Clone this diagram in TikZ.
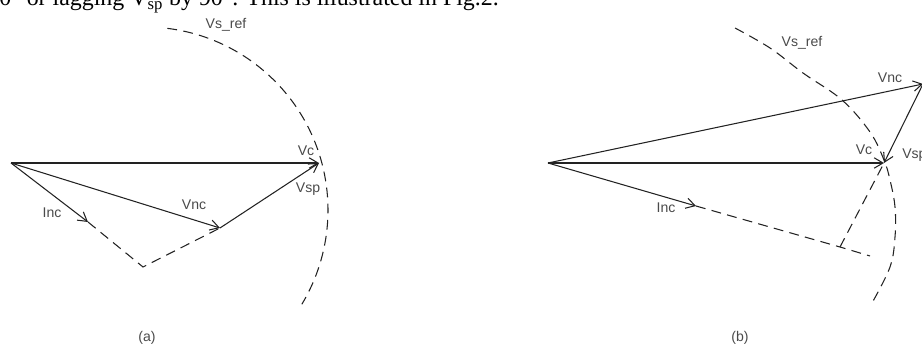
\documentclass[tikz,border=0pt]{standalone}
\usepackage{fontspec}
\setmainfont{Liberation Serif}
\setsansfont{Liberation Sans}
\usepackage{tikz}
\usetikzlibrary{arrows.meta}
\definecolor{phasorline}{HTML}{222222}
\definecolor{labelgray}{HTML}{4A4A4A}
\tikzset{
  phasor/.style={draw=phasorline,line width=0.75pt,
    -{Straight Barb[length=2.2mm,width=2.6mm]}},
  guide/.style={draw=phasorline,line width=0.75pt,dash pattern=on 7pt off 4.5pt},
  lbl/.style={font=\fontsize{10}{12}\selectfont\sffamily,text=labelgray,inner sep=0pt},
  caption/.style={font=\fontsize{17}{20}\selectfont\rmfamily,inner sep=0pt}
}

\begin{document}
\begin{tikzpicture}[x=0.025cm,y=0.025cm]
  \useasboundingbox (0,0) rectangle (922,347);
  \clip (0,0) rectangle (922,347);

  % running text above the figure
  \node[caption,anchor=base west] (txt) at (-1,341)
    {0° or lagging V\textsubscript{sp} by 90°. This is illustrated in Fig.2.};

  % (a)
  \coordinate (Oa) at (11,184);
  \coordinate (Vca) at (319,184);
  \coordinate (Vnca) at (220,119);
  \coordinate (Inca) at (88,125);
  \coordinate (Ka) at (143,80);
  \coordinate (Ca) at (145,137);
  \draw[guide] ([shift={(83:183)}]Ca) arc[start angle=83,end angle=-31,radius=183];
  \draw[phasor] (Oa) -- (Vca);
  \draw[phasor] (Oa) -- (Vnca);
  \draw[phasor] (Vnca) -- (Vca);
  \draw[phasor] (Oa) -- (Inca);
  \draw[guide] (Inca) -- (Ka) -- (Vnca);
  \node[lbl] (refa) at (226,322) {Vs\_ref};
  \node[lbl] (vca) at (306,196) {Vc};
  \node[lbl] (vspa) at (308,158) {Vsp};
  \node[lbl] (vnca) at (194,142) {Vnc};
  \node[lbl] (inca) at (52,134) {Inc};
  \node[lbl] (capa) at (147,9) {(a)};

  % (b)
  \coordinate (Ob) at (548,184);
  \coordinate (Vcb) at (884,184);
  \coordinate (Vncb) at (923,263);
  \coordinate (Incb) at (696,141);
  \coordinate (Kb) at (840,100);
  \coordinate (Eb) at (870,91);
  \draw[guide] plot[smooth,tension=0.6] coordinates {(735,319) (770,299) (803,274)
    (842,247) (870,215) (884,187) (890,167) (895,140) (895,110) (890,80) (872,44)};
  \draw[phasor] (Ob) -- (Vcb);
  \draw[phasor] (Ob) -- (Vncb);
  \draw[phasor] (Vncb) -- (Vcb);
  \draw[phasor] (Ob) -- (Incb);
  \draw[guide] (Incb) -- (Kb) -- (Eb);
  \draw[guide] (Kb) -- (Vcb);
  \node[lbl] (refb) at (802,304) {Vs\_ref};
  \node[lbl] (vncb) at (890,269) {Vnc};
  \node[lbl] (vcb) at (864,197) {Vc};
  \node[lbl,anchor=west] (vspb) at (902,192) {Vsp};
  \node[lbl] (incb) at (666,139) {Inc};
  \node[lbl] (capb) at (740,9) {(b)};
\end{tikzpicture}
\end{document}
